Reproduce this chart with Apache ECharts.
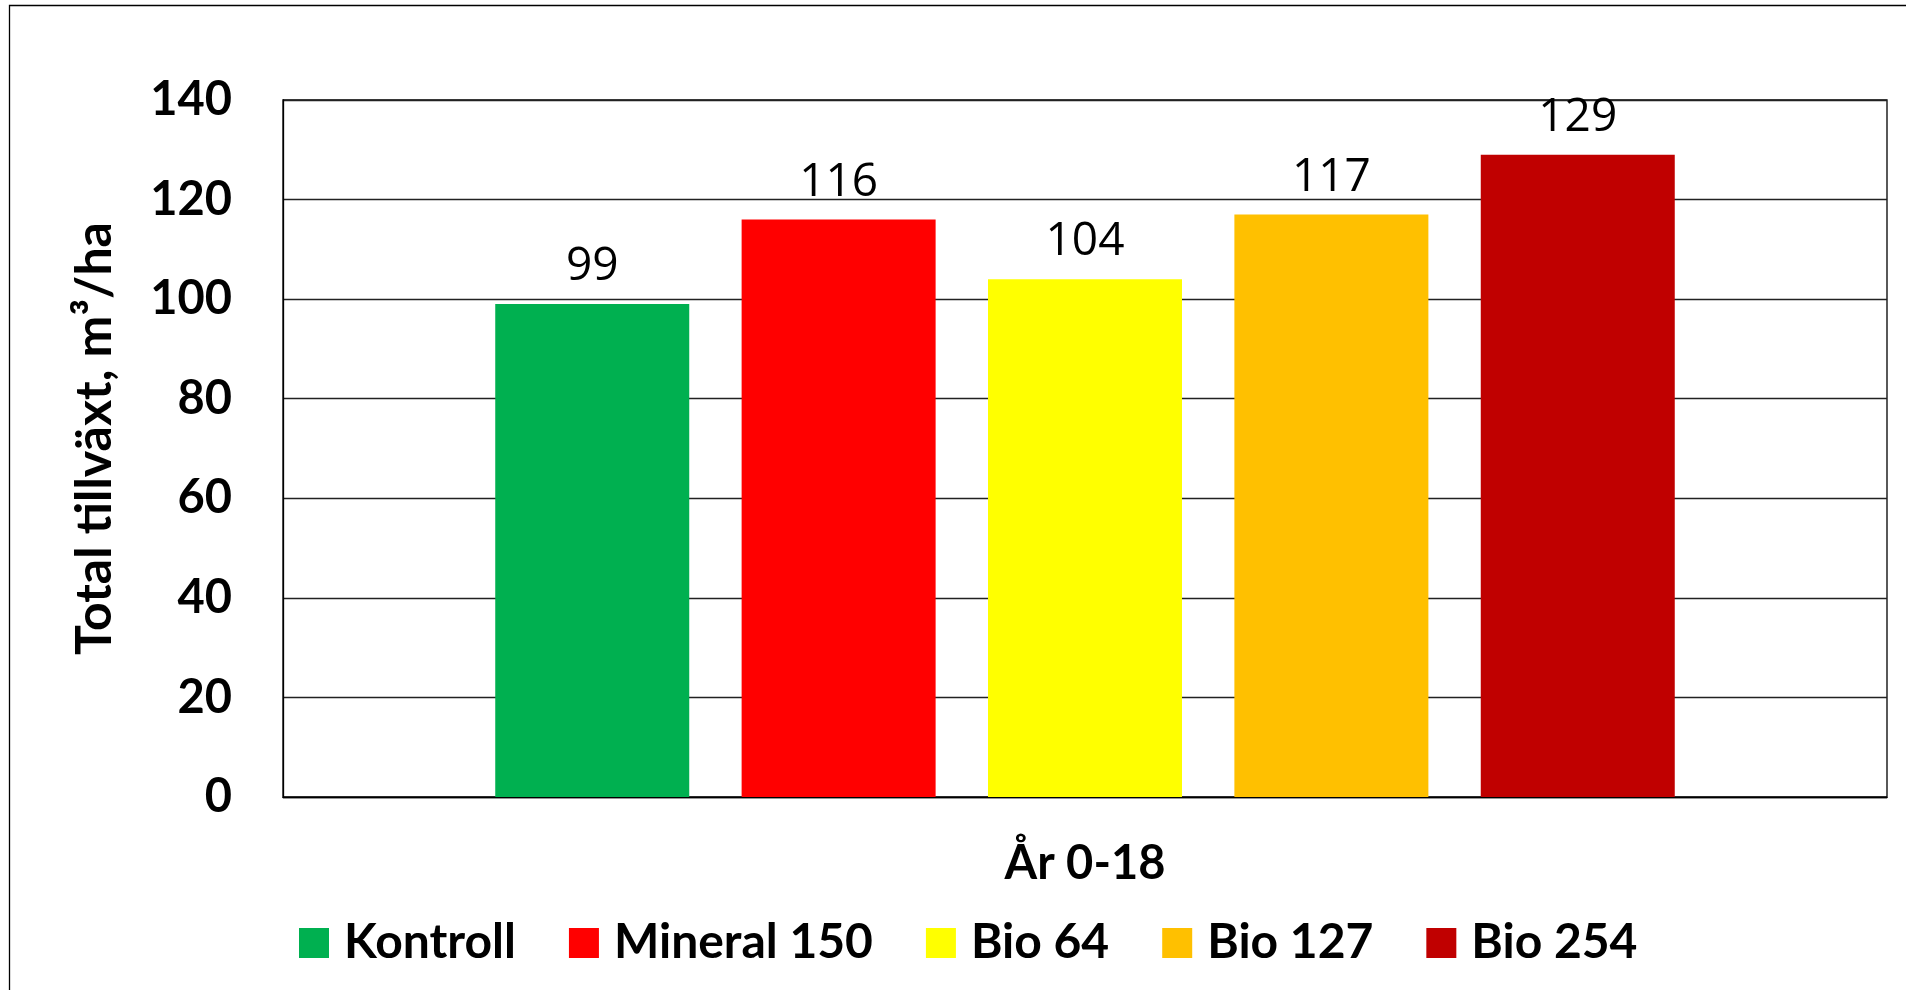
<!DOCTYPE html>
<html>
<head>
<meta charset="utf-8">
<script src="https://cdn.jsdelivr.net/npm/echarts@6/dist/echarts.min.js"></script>
<style>
html,body{margin:0;padding:0;background:#fff;}
#chart{width:1906px;height:990px;}
</style>
</head>
<body>
<div id="chart"></div>
<script>
var categories = ['År 0-18'];
var seriesNames = ['Kontroll', 'Mineral 150', 'Bio 64', 'Bio 127', 'Bio 254'];
var seriesValues = [99, 116, 104, 117, 129];
var seriesColors = ['#00B050', '#FF0000', '#FFFF00', '#FFC000', '#C00000'];
var yTicks = {min: 0, max: 140, interval: 20};
var yTitle = 'Total tillväxt, m³/ha';

var boldFont = 'Lato';
var chart = echarts.init(document.getElementById('chart'), null, {renderer: 'canvas'});

var series = seriesNames.map(function (name, i) {
  return {
    name: name,
    type: 'bar',
    data: [seriesValues[i]],
    barWidth: 194,
    barGap: '27%',
    itemStyle: {color: seriesColors[i]},
    label: {
      show: true,
      position: 'top',
      distance: 14,
      color: '#000',
      fontFamily: 'Open Sans',
      fontSize: 46,
      fontWeight: 'normal'
    }
  };
});

chart.setOption({
  animation: false,
  backgroundColor: '#fff',
  graphic: [{
    type: 'rect',
    shape: {x: 9.5, y: 5.5, width: 3000, height: 3000},
    style: {fill: 'none', stroke: '#000', lineWidth: 1.3},
    silent: true,
    z: -10
  }],
  grid: {
    left: 283, right: 19, top: 100, bottom: 193,
    show: true, borderColor: '#000', borderWidth: 1.3,
    containLabel: false
  },
  legend: {
    left: 294,
    top: 914,
    itemWidth: 30,
    itemHeight: 30,
    itemGap: 53,
    icon: 'rect',
    selectedMode: false,
    textStyle: {
      fontFamily: boldFont, fontWeight: 'bold', fontSize: 48, color: '#000',
      padding: [0, 0, 0, 10]
    },
    data: seriesNames
  },
  xAxis: {
    type: 'category',
    data: categories,
    axisLine: {show: true, lineStyle: {color: '#000', width: 1.3}},
    axisTick: {show: false},
    axisLabel: {
      margin: 43,
      color: '#000', fontFamily: boldFont, fontWeight: 'bold', fontSize: 47
    },
    splitLine: {show: false}
  },
  yAxis: {
    type: 'value',
    min: yTicks.min, max: yTicks.max, interval: yTicks.interval,
    name: yTitle,
    nameLocation: 'middle',
    nameRotate: 90,
    nameGap: 163,
    nameTextStyle: {
      color: '#000', fontFamily: boldFont, fontWeight: 'bold', fontSize: 50,
      padding: [0, 0, 0, 20]
    },
    axisLine: {show: true, lineStyle: {color: '#000', width: 1.3}},
    axisTick: {show: false},
    axisLabel: {
      margin: 51,
      color: '#000', fontFamily: boldFont, fontWeight: 'bold', fontSize: 47
    },
    splitLine: {show: true, lineStyle: {color: '#222', width: 1.3}}
  },
  series: series
});
</script>
</body>
</html>
